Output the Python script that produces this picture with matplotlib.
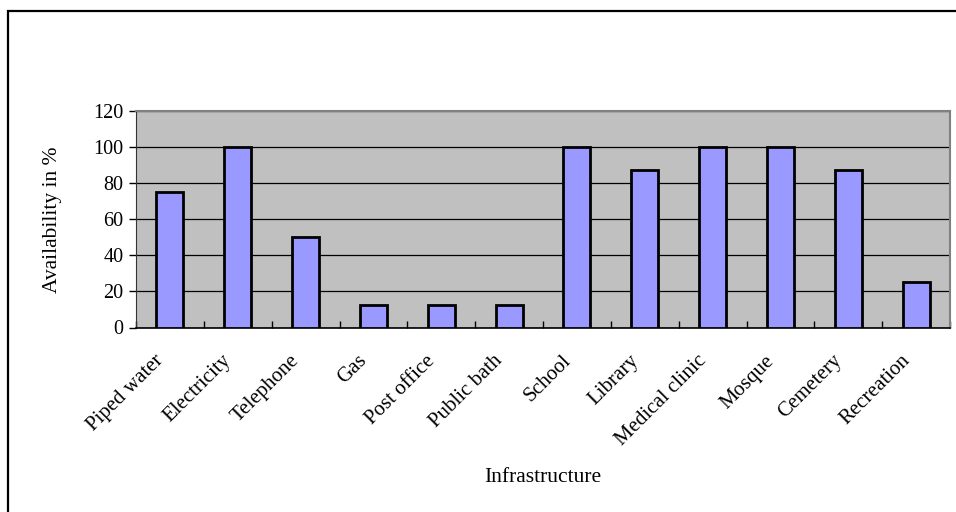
import numpy as np
import matplotlib
matplotlib.use("Agg")
import matplotlib.pyplot as plt
from matplotlib.patches import Rectangle
from matplotlib.transforms import ScaledTranslation

# donnees
categories = ["Piped water", "Electricity", "Telephone", "Gas", "Post office",
              "Public bath", "School", "Library", "Medical clinic", "Mosque",
              "Cemetery", "Recreation"]
availability = [75, 100, 50, 12.5, 12.5, 12.5, 100, 87.5, 100, 100, 87.5, 25]
yticks = [0, 20, 40, 60, 80, 100, 120]

plt.rcParams['font.family'] = ['Liberation Serif', 'DejaVu Serif']

W, H = 956, 512
fig = plt.figure(figsize=(W / 100, H / 100), dpi=100)

# cadre exterieur (style Excel)
fig.patches.append(Rectangle((8 / W, -0.05), 1.2, (H - 11) / H + 0.05,
                             transform=fig.transFigure, fill=False,
                             edgecolor='black', linewidth=1.6))

x0, x1, y0, y1 = 136, 950, 111, 327.5
ax = fig.add_axes([x0 / W, (H - y1) / H, (x1 - x0) / W, (y1 - y0) / H])
ax.set_facecolor('#C0C0C0')

x = np.arange(len(categories))
ax.bar(x, availability, width=0.4, color='#9999FF', edgecolor='black',
       linewidth=2, zorder=3)

ax.set_xlim(-0.5, len(categories) - 0.5)
ax.set_ylim(0, 120)
ax.set_yticks(yticks)
ax.yaxis.grid(True, color='black', linewidth=0.9, zorder=1)
ax.set_axisbelow(True)

ax.set_xticks(x)
ax.set_xticklabels(categories, rotation=45, ha='right', va='center',
                   rotation_mode='anchor', fontsize=15)
ax.tick_params(axis='x', length=0, pad=22)
# decalage des etiquettes vers la gauche
for lbl in ax.get_xticklabels():
    lbl.set_transform(lbl.get_transform() +
                      ScaledTranslation(-9 / 100, 0, fig.dpi_scale_trans))
ax.set_xticks(np.arange(len(categories) + 1) - 0.5, minor=True)
ax.tick_params(axis='x', which='minor', direction='in', length=5,
               width=1, color='black')
ax.tick_params(axis='y', direction='out', length=5, width=1,
               labelsize=14.5, pad=4)

for s in ['top', 'right']:
    ax.spines[s].set_color('#808080')
    ax.spines[s].set_linewidth(1.5)
ax.spines['left'].set_color('#333333')
ax.spines['bottom'].set_color('black')
ax.spines['bottom'].set_linewidth(1.2)

fig.text(53 / W, 1 - 220 / H, 'Availability in %', rotation=90,
         ha='center', va='center', fontsize=15.5)
fig.text(543 / W, 1 - 478 / H, 'Infrastructure', ha='center', va='center',
         fontsize=15.5)

fig.savefig('out.png', dpi=100)
